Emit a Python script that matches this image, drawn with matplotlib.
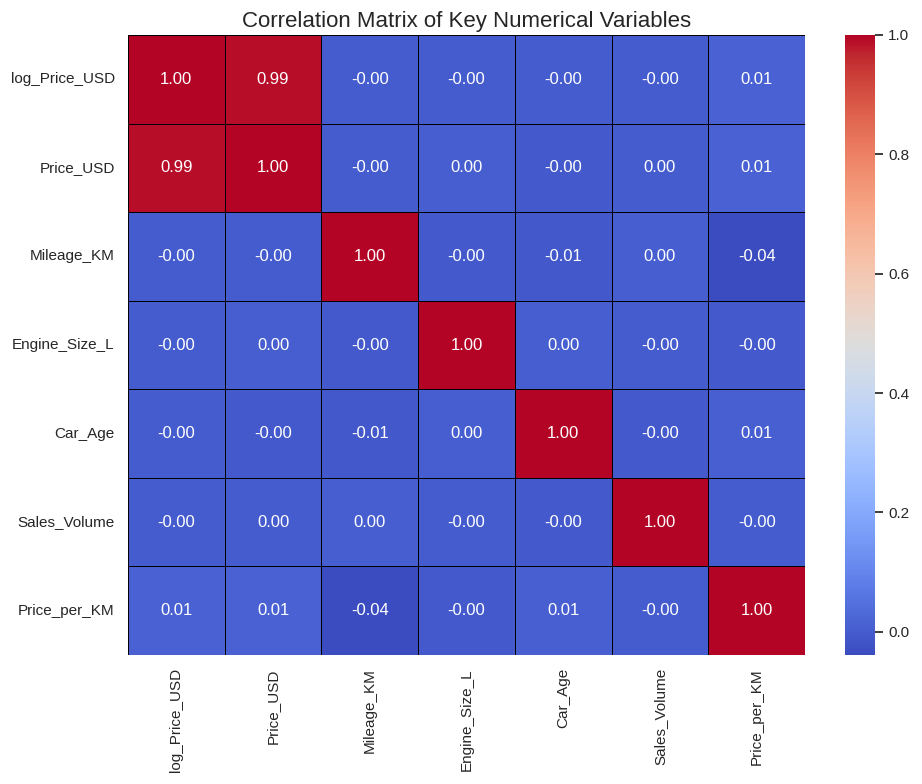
import numpy as np
import pandas as pd
import matplotlib
matplotlib.use("Agg")
import matplotlib.pyplot as plt
import seaborn as sns

sns.set_theme(style="white")
plt.rcParams['font.family'] = ['Liberation Sans', 'DejaVu Sans']

variables = ["log_Price_USD", "Price_USD", "Mileage_KM", "Engine_Size_L",
             "Car_Age", "Sales_Volume", "Price_per_KM"]

# lower-triangle correlations, row by row (estimated)
row_price_usd = [0.988]
row_mileage = [-0.002, -0.002]
row_engine = [-0.002, 0.002, -0.003]
row_car_age = [-0.002, -0.003, -0.008, 0.002]
row_sales = [-0.001, 0.001, 0.002, -0.002, -0.003]
row_price_per_km = [0.010, 0.010, -0.039, -0.003, 0.008, -0.002]

lower_rows = [row_price_usd, row_mileage, row_engine, row_car_age, row_sales, row_price_per_km]
n = len(variables)
mat = np.eye(n)
for i, row in enumerate(lower_rows, start=1):
    for j, v in enumerate(row):
        mat[i, j] = v
        mat[j, i] = v
corr = pd.DataFrame(mat, index=variables, columns=variables)

fig = plt.figure(figsize=(9.22, 7.84), dpi=100)
ax = fig.add_axes([128/922, 1-655/784, (805-128)/922, (655-35)/784])
cax = fig.add_axes([845/922, 1-655/784, 30/922, (655-35)/784])
sns.heatmap(corr, annot=True, fmt=".2f", cmap="coolwarm", linewidths=0.5,
            linecolor="black", ax=ax, cbar_ax=cax, annot_kws={"size": 12})
ax.set_title("Correlation Matrix of Key Numerical Variables", fontsize=16)
ax.tick_params(axis='both', labelsize=11)
plt.setp(ax.get_xticklabels(), rotation=90)
plt.setp(ax.get_yticklabels(), rotation=0)
cax.tick_params(labelsize=11)
fig.savefig("out.png", dpi=100)
